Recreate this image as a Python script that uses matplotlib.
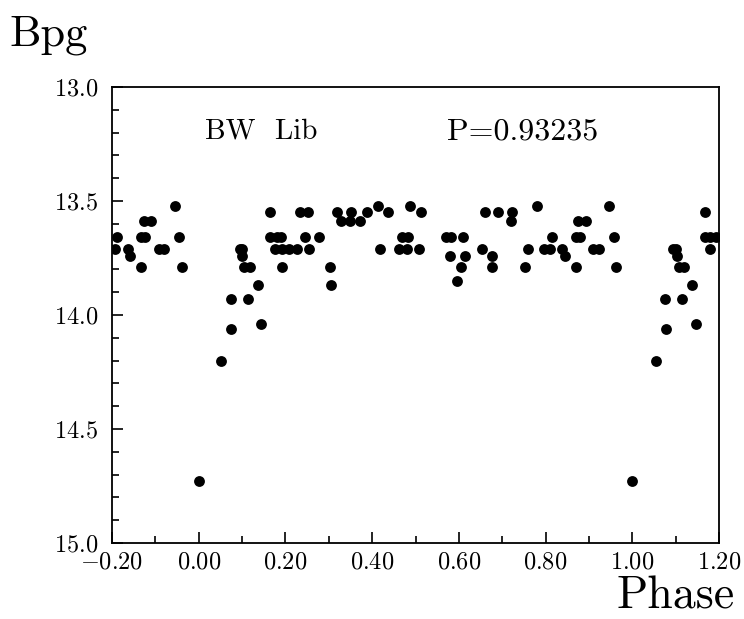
import matplotlib
matplotlib.use("Agg")
import matplotlib.pyplot as plt
from matplotlib.ticker import MultipleLocator, StrMethodFormatter

plt.rcParams['font.family'] = ['cmr10', 'DejaVu Serif']
plt.rcParams['mathtext.fontset'] = 'cm'

# phase and Bpg magnitude
phase = [
    -0.193, -0.188, -0.164, -0.158, -0.132, -0.123, -0.132, -0.127, -0.109, -0.092,
    -0.079, -0.055, -0.045, -0.039,
    0.000, 0.051, 0.074, 0.075, 0.095, 0.099, 0.101, 0.104, 0.118, 0.113,
    0.136, 0.144, 0.165, 0.165, 0.180, 0.190, 0.176, 0.191, 0.208, 0.226,
    0.191, 0.234, 0.253, 0.245, 0.254, 0.278, 0.302, 0.305, 0.318, 0.327,
    0.349, 0.351, 0.373, 0.389, 0.414, 0.436, 0.417, 0.461, 0.468, 0.480,
    0.483, 0.487, 0.509, 0.513, 0.570, 0.581, 0.580, 0.610, 0.613, 0.605,
    0.596, 0.653, 0.660, 0.677, 0.676, 0.690, 0.723, 0.721, 0.779, 0.759,
    0.752, 0.796, 0.810, 0.814, 0.838, 0.844, 0.870, 0.869, 0.879, 0.875,
    0.893, 0.909, 0.922, 0.947, 0.958, 0.962,
    1.000, 1.054, 1.075, 1.077, 1.094, 1.100, 1.103, 1.107, 1.118, 1.115,
    1.138, 1.147, 1.168, 1.168, 1.179, 1.193, 1.180,
]
bpg = [
    13.71, 13.66, 13.71, 13.74, 13.66, 13.66, 13.79, 13.59, 13.59, 13.71,
    13.71, 13.52, 13.66, 13.79,
    14.73, 14.20, 13.93, 14.06, 13.71, 13.71, 13.74, 13.79, 13.79, 13.93,
    13.87, 14.04, 13.55, 13.66, 13.66, 13.66, 13.71, 13.71, 13.71, 13.71,
    13.79, 13.55, 13.55, 13.66, 13.71, 13.66, 13.79, 13.87, 13.55, 13.59,
    13.59, 13.55, 13.59, 13.55, 13.52, 13.55, 13.71, 13.71, 13.66, 13.71,
    13.66, 13.52, 13.71, 13.55, 13.66, 13.66, 13.74, 13.66, 13.74, 13.79,
    13.85, 13.71, 13.55, 13.74, 13.79, 13.55, 13.55, 13.59, 13.52, 13.71,
    13.79, 13.71, 13.71, 13.66, 13.71, 13.74, 13.79, 13.66, 13.66, 13.59,
    13.59, 13.71, 13.71, 13.52, 13.66, 13.79,
    14.73, 14.20, 13.93, 14.06, 13.71, 13.71, 13.74, 13.79, 13.79, 13.93,
    13.87, 14.04, 13.55, 13.66, 13.66, 13.66, 13.71,
]

star = "BW  Lib"
period = "P=0.93235"

fig = plt.figure(figsize=(7.44, 6.19), dpi=100)
ax = fig.add_axes([0.1505, 0.1228, 0.816, 0.7367])

ax.plot(phase, bpg, 'o', color='black', ms=7.8, mew=0)

ax.set_xlim(-0.2, 1.2)
ax.set_ylim(15.0, 13.0)
ax.xaxis.set_major_locator(MultipleLocator(0.2))
ax.xaxis.set_minor_locator(MultipleLocator(0.1))
ax.yaxis.set_major_locator(MultipleLocator(0.5))
ax.yaxis.set_minor_locator(MultipleLocator(0.1))
ax.xaxis.set_major_formatter(StrMethodFormatter('${x:.2f}$'))
ax.yaxis.set_major_formatter(StrMethodFormatter('${x:.1f}$'))
ax.tick_params(which='both', direction='in', top=False, right=False,
               labelsize=17.5, width=1.2)
ax.tick_params(which='major', length=8)
ax.tick_params(which='minor', length=5)
ax.tick_params(axis='x', pad=6)
ax.tick_params(axis='y', pad=10)
for s in ax.spines.values():
    s.set_linewidth(1.3)

ax.text(0.015, 13.195, star, fontsize=21, va='center', ha='left')
ax.text(0.573, 13.195, period, fontsize=23, va='center', ha='left')

fig.text(0.013, 0.943, "Bpg", fontsize=32, va='center', ha='left')
fig.text(0.988, 0.036, "Phase", fontsize=33, va='center', ha='right')

fig.savefig("out.png", dpi=100)
